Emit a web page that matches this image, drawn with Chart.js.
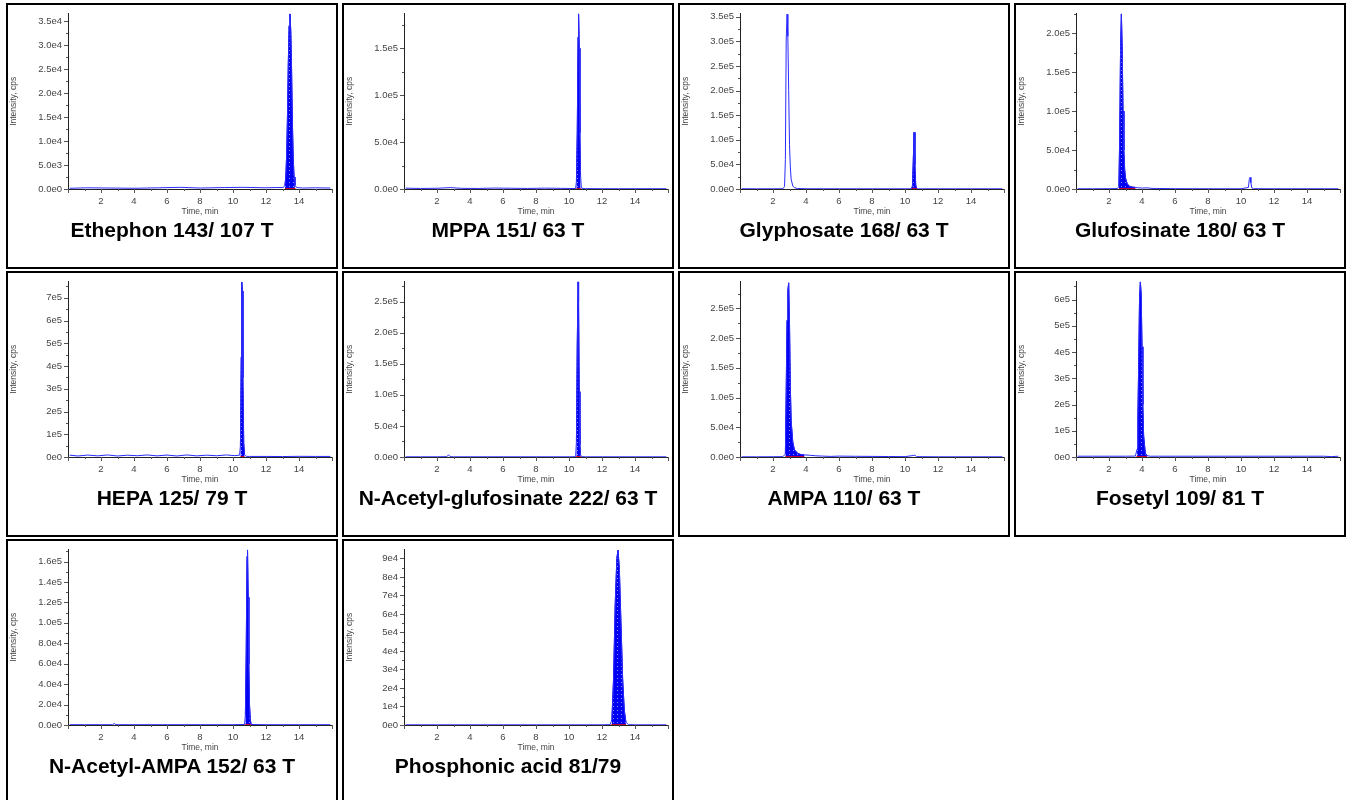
<!DOCTYPE html>
<html>
<head>
<meta charset="utf-8">
<script src="https://cdn.jsdelivr.net/npm/chart.js@4.4.1/dist/chart.umd.min.js"></script>
<style>
  body { margin: 0; background: #fff; font-family: Arial, "Liberation Sans", sans-serif; }
  #grid { display: grid; grid-template-columns: repeat(4, 332px); grid-auto-rows: 266px; column-gap: 4px; row-gap: 2px; padding: 3px 0 0 6px; }
  .cell { border: 2px solid #000; box-sizing: border-box; position: relative; }
  .cell canvas { position: absolute; left: 0; top: 0; }
  .cell .name { position: absolute; left: 0; right: 0; top: 213px; text-align: center; font-weight: bold; font-size: 21px; line-height: 24px; color: #000; }
</style>
</head>
<body>
<div id="grid"></div>
<script>
// panel titles and y-axis setup
const titles = ['Ethephon 143/ 107 T', 'MPPA 151/ 63 T', 'Glyphosate 168/ 63 T', 'Glufosinate 180/ 63 T',
  'HEPA 125/ 79 T', 'N-Acetyl-glufosinate 222/ 63 T', 'AMPA 110/ 63 T', 'Fosetyl 109/ 81 T',
  'N-Acetyl-AMPA 152/ 63 T', 'Phosphonic acid 81/79'];
const yAxisMax = [36500, 187000, 356000, 225000, 771000, 282000, 295000, 668000, 171600, 94700];
const yLabelStep = [5000, 50000, 50000, 50000, 100000, 50000, 50000, 100000, 20000, 10000];
const yMinorStep = [2500, 25000, 25000, 25000, 50000, 25000, 25000, 50000, 10000, 5000];
const yLabelDigits = [1, 1, 1, 1, 0, 1, 1, 0, 1, 0];
// integrated peak window (min)
const peakStart = [13.15, 10.45, 10.4, 2.6, 10.45, 10.42, 2.75, 3.65, 10.72, 12.55];
const peakEnd = [13.8, 10.72, 10.72, 3.6, 10.7, 10.72, 3.9, 4.3, 11.1, 13.45];

// traces: time (min) / intensity (cps)
const tEthephon = [0.1, 1.2, 2.5, 4, 5.5, 6.8, 8, 9.5, 10.6, 12, 12.6, 13.05, 13.15, 13.2, 13.25, 13.3, 13.35, 13.4, 13.45, 13.5, 13.55, 13.6, 13.65, 13.7, 13.75, 13.85, 14.2, 15, 15.9];
const iEthephon = [150, 250, 200, 150, 250, 350, 200, 300, 350, 250, 300, 300, 800, 2500, 7000, 15000, 26000, 34000, 36500, 33000, 25000, 14000, 6500, 2500, 800, 300, 200, 250, 200];

const tMPPA = [0.1, 1, 2, 2.8, 3.5, 4.5, 5.5, 6.5, 7.5, 8.5, 9.5, 10.4, 10.45, 10.5, 10.55, 10.58, 10.62, 10.66, 10.7, 10.75, 11, 12, 13, 14, 15.9];
const iMPPA = [900, 600, 800, 1500, 700, 600, 1000, 800, 600, 900, 700, 500, 8000, 60000, 162000, 187000, 150000, 60000, 15000, 800, 400, 300, 300, 300, 300];

const tGlyphosate = [0.1, 1, 2, 2.6, 2.7, 2.75, 2.8, 2.85, 2.9, 2.95, 3.0, 3.05, 3.1, 3.2, 3.3, 3.5, 4, 6, 8, 10, 10.4, 10.45, 10.5, 10.55, 10.6, 10.65, 10.7, 10.8, 12, 14, 15.9];
const iGlyphosate = [500, 400, 400, 500, 5000, 60000, 300000, 355000, 310000, 200000, 90000, 45000, 20000, 6000, 2500, 1000, 500, 400, 400, 400, 500, 6000, 55000, 115000, 50000, 8000, 1000, 400, 400, 400, 400];

const tGlufosinate = [0.1, 1, 2, 2.5, 2.6, 2.65, 2.7, 2.75, 2.8, 2.85, 2.9, 2.95, 3.0, 3.1, 3.2, 3.4, 3.6, 3.8, 4.0, 4.3, 4.6, 4.9, 6, 8, 10, 10.45, 10.5, 10.55, 10.6, 10.65, 10.75, 12, 14, 15.9];
const iGlufosinate = [300, 300, 400, 500, 3000, 70000, 180000, 225000, 180000, 100000, 50000, 25000, 14000, 7000, 4000, 2500, 2000, 1500, 1200, 1500, 800, 700, 400, 300, 300, 2000, 12000, 15000, 8000, 1500, 400, 300, 300, 300];

const tHEPA = [0.1, 0.6, 1.2, 1.8, 2.4, 3, 3.6, 4.2, 4.8, 5.4, 6, 6.6, 7.2, 7.8, 8.4, 9, 9.6, 10.1, 10.4, 10.45, 10.5, 10.53, 10.57, 10.6, 10.65, 10.7, 10.8, 11, 12, 13, 14, 15, 15.9];
const iHEPA = [8000, 4500, 8500, 5000, 9000, 4500, 8000, 5500, 9000, 5000, 8500, 4500, 9000, 5000, 8000, 5500, 9000, 6000, 8000, 50000, 440000, 770000, 730000, 350000, 60000, 10000, 3000, 2500, 2500, 2000, 3000, 2500, 2500];

const tAcGlufosinate = [0.1, 1, 2, 2.6, 2.7, 2.8, 3, 4, 6, 8, 10, 10.4, 10.45, 10.5, 10.55, 10.58, 10.62, 10.66, 10.7, 10.75, 11, 12, 14, 15.9];
const iAcGlufosinate = [300, 300, 300, 500, 3500, 500, 300, 300, 300, 300, 300, 500, 25000, 180000, 282000, 250000, 105000, 20000, 4000, 500, 300, 300, 300, 300];

const tAMPA = [0.1, 1, 2, 2.6, 2.75, 2.8, 2.85, 2.9, 2.95, 3.0, 3.05, 3.1, 3.2, 3.3, 3.5, 3.7, 3.9, 4.2, 4.6, 5, 5.5, 6, 7, 8, 9, 10, 10.5, 10.6, 10.7, 12, 14, 15.9];
const iAMPA = [300, 300, 400, 600, 5000, 110000, 230000, 280000, 293000, 225000, 120000, 60000, 25000, 12000, 6000, 4000, 3500, 3000, 2000, 1500, 1000, 1500, 1200, 1000, 800, 600, 2500, 3000, 600, 300, 300, 300];

const tFosetyl = [0.1, 1, 2, 3, 3.6, 3.7, 3.75, 3.8, 3.85, 3.9, 3.95, 4.0, 4.05, 4.1, 4.2, 4.3, 4.5, 5, 6, 8, 10, 12, 14, 15, 15.5, 15.9];
const iFosetyl = [3000, 3000, 3000, 3000, 3500, 30000, 150000, 360000, 600000, 668000, 620000, 420000, 200000, 80000, 15000, 5000, 3000, 3000, 3000, 3000, 3000, 3000, 3000, 3000, 1500, 3000];

const tAcAMPA = [0.1, 1, 2, 2.7, 2.8, 2.9, 4, 6, 8, 10, 10.7, 10.75, 10.8, 10.85, 10.88, 10.92, 10.96, 11.0, 11.05, 11.1, 12, 14, 15.9];
const iAcAMPA = [300, 300, 300, 300, 1500, 300, 300, 300, 300, 300, 500, 10000, 70000, 165000, 171500, 125000, 60000, 20000, 5000, 500, 300, 300, 300];

const tPhosphonic = [0.1, 2, 4, 6, 8, 10, 12, 12.5, 12.6, 12.7, 12.8, 12.9, 12.97, 13.05, 13.15, 13.25, 13.35, 13.45, 13.6, 14, 15.9];
const iPhosphonic = [100, 100, 100, 100, 100, 100, 100, 200, 3000, 25000, 65000, 90000, 94500, 85000, 55000, 25000, 8000, 1500, 200, 100, 100];

const traceTimes = [tEthephon, tMPPA, tGlyphosate, tGlufosinate, tHEPA, tAcGlufosinate, tAMPA, tFosetyl, tAcAMPA, tPhosphonic];
const traceCounts = [iEthephon, iMPPA, iGlyphosate, iGlufosinate, iHEPA, iAcGlufosinate, iAMPA, iFosetyl, iAcAMPA, iPhosphonic];

Chart.defaults.font.family = 'Arial, "Liberation Sans", sans-serif';

function onStep(v, step) {
  const r = v / step;
  return Math.abs(r - Math.round(r)) < 1e-6;
}

function expLabel(v, digits) {
  return v.toExponential(digits).replace('e+', 'e');
}

function dotPattern() {
  const c = document.createElement('canvas');
  c.width = 4; c.height = 4;
  const g = c.getContext('2d');
  g.fillStyle = '#0000f5';
  g.fillRect(0, 0, 4, 4);
  g.fillStyle = '#8c8cff';
  g.fillRect(1, 1, 1, 1);
  return g.createPattern(c, 'repeat');
}

// short major / minor tick marks on both axes
const tickMarks = {
  id: 'tickMarks',
  afterDraw(chart, args, opts) {
    const { ctx, chartArea } = chart;
    const xs = chart.scales.x, ys = chart.scales.y;
    ctx.save();
    ctx.strokeStyle = '#555';
    ctx.lineWidth = 1;
    ctx.beginPath();
    xs.ticks.forEach(t => {
      const px = Math.round(xs.getPixelForValue(t.value)) + 0.5;
      const len = onStep(t.value, opts.xMajor) ? 4 : 2;
      ctx.moveTo(px, chartArea.bottom);
      ctx.lineTo(px, chartArea.bottom + len);
    });
    ys.ticks.forEach(t => {
      const py = Math.round(ys.getPixelForValue(t.value)) + 0.5;
      const len = onStep(t.value, opts.yMajor) ? 4 : 2;
      ctx.moveTo(chartArea.left - len, py);
      ctx.lineTo(chartArea.left, py);
    });
    ctx.stroke();
    ctx.restore();
  }
};

const fill = dotPattern();
const grid = document.getElementById('grid');

titles.forEach((title, k) => {
  const cell = document.createElement('div');
  cell.className = 'cell';
  const canvas = document.createElement('canvas');
  canvas.width = 328;
  canvas.height = 215;
  const name = document.createElement('div');
  name.className = 'name';
  name.textContent = title;
  cell.appendChild(canvas);
  cell.appendChild(name);
  grid.appendChild(cell);

  const pts = traceTimes[k].map((t, j) => ({ x: t, y: traceCounts[k][j] }));
  const integrated = pts.filter(p => p.x >= peakStart[k] && p.x <= peakEnd[k]);
  const baseline = [{ x: peakStart[k], y: 0 }, { x: peakEnd[k], y: 0 }];

  new Chart(canvas, {
    type: 'line',
    data: {
      datasets: [
        { data: baseline, borderColor: '#ff0000', borderWidth: 1.5, order: 0 },
        { data: pts, borderColor: '#2a2aff', borderWidth: 1, order: 1 },
        { data: integrated, borderColor: '#0000d8', borderWidth: 1, backgroundColor: fill, fill: 'origin', order: 2 }
      ]
    },
    options: {
      responsive: false,
      animation: false,
      events: [],
      layout: { padding: { top: 7, right: 2, left: 0, bottom: 0 } },
      elements: { point: { radius: 0 }, line: { tension: 0 } },
      plugins: {
        legend: { display: false },
        tooltip: { enabled: false },
        tickMarks: { xMajor: 2, yMajor: yLabelStep[k] }
      },
      scales: {
        x: {
          type: 'linear', min: 0, max: 16,
          afterFit: s => { s.height = 31; },
          grid: { display: false, tickLength: 3 },
          border: { color: '#222', width: 1 },
          ticks: {
            stepSize: 1, autoSkip: false, maxRotation: 0, includeBounds: false, padding: 4,
            color: '#444', font: { size: 9.5 },
            callback: v => (onStep(v, 2) && v > 0 && v < 16) ? String(v) : ''
          },
          title: { display: true, text: 'Time, min', color: '#444', font: { size: 8.5 }, padding: { top: 0, bottom: 3 } }
        },
        y: {
          min: 0, max: yAxisMax[k], bounds: 'data',
          afterFit: s => { s.width = 60; },
          afterBuildTicks: s => {
            const list = [];
            for (let j = 0; j * yMinorStep[k] <= yAxisMax[k]; j++) list.push({ value: j * yMinorStep[k] });
            s.ticks = list;
          },
          grid: { display: false, tickLength: 3 },
          border: { color: '#222', width: 1 },
          ticks: {
            stepSize: yMinorStep[k], autoSkip: false, includeBounds: false, padding: 3,
            color: '#444', font: { size: 9.5 },
            callback: v => onStep(v, yLabelStep[k]) ? expLabel(v, yLabelDigits[k]) : ''
          },
          title: { display: true, text: 'Intensity, cps', color: '#444', font: { size: 8.5 }, padding: { top: 1, bottom: 0 } }
        }
      }
    },
    plugins: [tickMarks]
  });
});
</script>
</body>
</html>
